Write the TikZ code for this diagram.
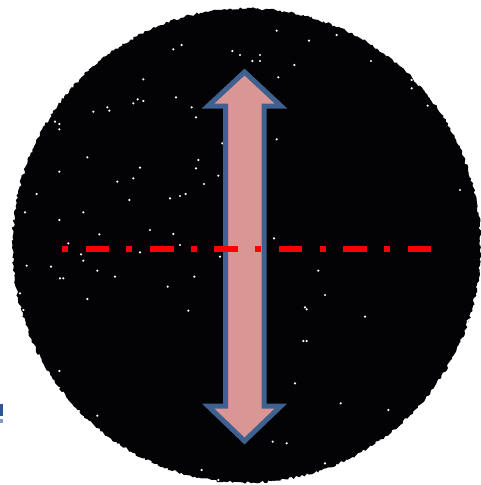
\documentclass[tikz,border=0pt]{standalone}
\usetikzlibrary{decorations.pathmorphing}
\definecolor{disc}{RGB}{3,2,4}
\definecolor{arrowfill}{RGB}{217,150,148}
\definecolor{arrowline}{RGB}{63,97,144}
\definecolor{glyph}{RGB}{47,85,151}
\tikzset{
  speck/.style={fill=white, draw=none},
  axisline/.style={draw=red, line width=6pt, dash pattern=on 6pt off 17.6pt on 23.5pt off 17.3pt},
  bigarrow/.style={fill=arrowfill, draw=arrowline, line width=5pt, line join=miter, miter limit=10}
}
\begin{document}
\begin{tikzpicture}[x=1pt,y=-1pt]
\useasboundingbox (0,0) rectangle (481,485);
\pgfmathsetseed{7}
% disc with jagged edge
\fill[disc, decorate, decoration={random steps, segment length=2.2pt, amplitude=1.3pt}]
  (246.5,245.5) ellipse [x radius=234, y radius=237];
% speckles
\begin{scope}[x=0.33333pt,y=-0.33333pt]
\foreach \a/\b in {830/92,545/135,520/148,697/153,720/165,780/165,757/183,780/183,927/122,1010/105,
  1113/183,1160/165,883/195,835/232,430/238,528/292,413/298,430/303,400/310,575/322,588/352,
  322/322,328/332,280/335,165/365,178/372,178/388,1235/240,1283/317,667/430,830/418,262/472,
  595/480,588/505,420/503,178/515,400/535,352/545,655/527,612/552,540/588,557/582,510/595,
  388/600,110/582,250/637,75/637,178/660,1380/570,450/690,298/703,520/702,822/715,205/730,
  198/745,540/735,420/757,243/763,250/782,660/770,80/797,153/800,292/812,345/830,583/830,
  180/835,190/835,955/812,503/860,975/885,262/897,915/922,920/928,565/932,1095/950,1403/963,
  910/1023,920/1023,178/1113,885/1150,1022/1210,292/1247,818/1325,860/1330,975/1390,605/1410,
  655/1440,70/930,60/880,1235/265,1165/1230,170/1200}
  \fill[speck] (\a,\b) circle [radius=3.6];
\end{scope}
% double arrow
\draw[bigarrow] (244.5,72) -- (281,106) -- (264,106) -- (264,406) -- (281,406)
  -- (244.5,441) -- (208,406) -- (225.5,406) -- (225.5,106) -- (208,106) -- cycle;
% red dash-dot axis, drawn over the arrow
\coordinate (axL) at (62,249);
\coordinate (axR) at (432,249);
\draw[axisline] (axL) -- (axR);
% cut-off blue glyph fragment at left edge
\fill[glyph] (0,404) rectangle (3.2,416);
\fill[glyph!60] (0,419) rectangle (2.6,423);
\end{tikzpicture}
\end{document}
